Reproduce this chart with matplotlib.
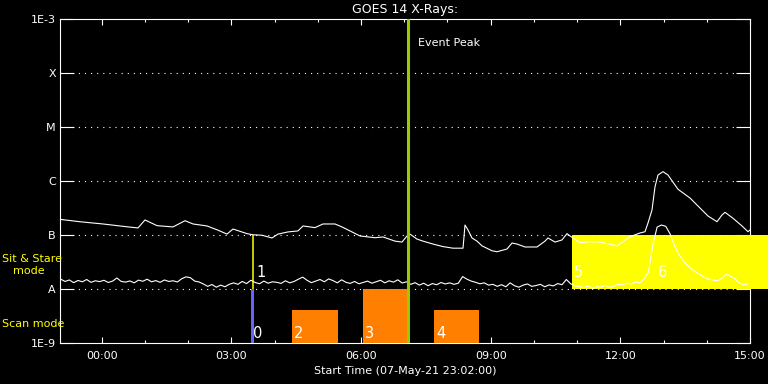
import numpy as np
import matplotlib
matplotlib.use("Agg")
import matplotlib.pyplot as plt
import matplotlib.transforms as mtransforms
from matplotlib.ticker import FixedLocator, NullLocator, MultipleLocator

# time axis in hours from 08-May-21 00:00, plot starts 07-May-21 23:02
t_start = -58 / 60.0
t_end = 15.0

# GOES 14 long channel (1-8 A), units of 1e-7 W/m^2
long_t = [-0.967, -0.504, 0.028, 0.584, 0.838, 1.000, 1.278, 1.648, 1.926, 2.111,
          2.435, 2.666, 2.898, 3.037, 3.360, 3.499, 3.708, 3.939, 4.078, 4.309,
          4.541, 4.656, 4.934, 5.119, 5.397, 5.559, 5.744, 5.975, 6.322, 6.508,
          6.785, 6.947, 7.063, 7.132, 7.294, 7.433, 7.664, 7.896, 8.127, 8.359,
          8.405, 8.474, 8.567, 8.683, 8.798, 9.030, 9.146, 9.377, 9.493, 9.608,
          9.794, 10.071, 10.256, 10.326, 10.488, 10.650, 10.765, 10.835, 11.066, 11.297,
          11.529, 11.922, 12.223, 12.455, 12.570, 12.640, 12.732, 12.802, 12.871, 12.987,
          13.103, 13.334, 13.612, 13.843, 14.028, 14.237, 14.352, 14.422, 14.607, 14.815,
          14.953, 15.0]
long_flux = [1.95, 1.76, 1.60, 1.42, 1.35, 1.90, 1.49, 1.41, 1.84, 1.60,
             1.47, 1.25, 1.04, 1.29, 1.06, 1.01, 0.99, 0.88, 1.04, 1.14,
             1.19, 1.47, 1.37, 1.60, 1.60, 1.41, 1.19, 0.96, 0.89, 0.92,
             0.77, 0.74, 0.96, 1.04, 0.84, 0.77, 0.68, 0.61, 0.57, 0.57,
             1.53, 1.24, 0.88, 0.77, 0.63, 0.51, 0.49, 0.55, 0.71, 0.68,
             0.60, 0.60, 0.77, 0.88, 0.74, 0.81, 1.06, 0.96, 0.72, 0.75,
             0.74, 0.63, 0.93, 1.09, 1.15, 1.67, 2.90, 7.84, 12.9, 14.9,
             12.9, 7.02, 4.84, 3.16, 2.25, 1.76, 2.35, 2.63, 2.04, 1.47,
             1.15, 1.24]

# short channel (0.5-4 A), units of 1e-8 W/m^2, one sample every 6 min from 23:03
short_t0 = -0.95
short_dt = 0.1
short_flux = [1.52, 1.38, 1.47, 1.31, 1.44, 1.36, 1.50, 1.33, 1.42, 1.37,
              1.45, 1.32, 1.40, 1.60, 1.38, 1.34, 1.41, 1.30, 1.46, 1.39,
              1.52, 1.36, 1.43, 1.33, 1.47, 1.38, 1.42, 1.35, 1.55, 1.68,
              1.62, 1.40, 1.35, 1.24, 1.12, 1.21, 1.08, 1.18, 1.10, 1.22,
              1.30, 1.22, 1.38, 1.26, 1.45, 1.32, 1.25, 1.40, 1.28, 1.36,
              1.33, 1.27, 1.42, 1.30, 1.38, 1.52, 1.66, 1.45, 1.31, 1.40,
              1.50, 1.36, 1.54, 1.43, 1.30, 1.48, 1.33, 1.27, 1.38, 1.25,
              1.32, 1.40, 1.28, 1.36, 1.45, 1.30, 1.42, 1.34, 1.48, 1.29,
              1.36, 1.22, 1.31, 1.18, 1.28, 1.15, 1.26, 1.20, 1.32, 1.24,
              1.30, 1.22, 1.28, 1.70, 1.52, 1.40, 1.33, 1.25, 1.30, 1.18,
              1.22, 1.12, 1.20, 1.10, 1.30, 1.15, 1.08, 1.18, 1.24, 1.12,
              1.16, 1.22, 1.10, 1.19, 1.14, 1.26, 1.20, 1.50, 1.25, 1.14,
              1.12, 1.05, 1.15, 1.02, 1.10, 1.08, 1.17, 1.06, 1.13, 1.22,
              1.20, 1.28, 1.24, 1.35, 1.30, 1.55, 2.05, 6.5, 14.0, 15.3,
              14.5, 10.5, 6.5, 4.4, 3.4, 2.75, 2.35, 2.05, 1.85, 1.62,
              1.52, 1.46, 1.42, 1.58, 1.90, 1.72, 1.55, 1.30, 1.20, 1.25]

# flare class axis
class_levels = [1e-9, 1e-8, 1e-7, 1e-6, 1e-5, 1e-4, 1e-3]
class_labels = ["1E-9", "A", "B", "C", "M", "X", "1E-3"]

hour_ticks = [0, 3, 6, 9, 12, 15]
hour_labels = ["00:00", "03:00", "06:00", "09:00", "12:00", "15:00"]

# observations (start/end in hours, flux range covered)
event_ids = ["0", "1", "2", "3", "4", "5", "6"]
event_start = [3.45, 3.50, 4.40, 6.05, 7.69, 10.87, 12.82]
event_end = [3.52, 3.50, 5.46, 7.09, 8.72, 15.5, 15.5]
event_mode = ["scan", "stare", "scan", "scan", "scan", "stare", "stare"]
event_low = [1e-9, 1e-8, 1e-9, 1e-9, 1e-9, 1e-8, 1e-8]
event_high = [1e-8, 1e-7, 4e-9, 1e-8, 4e-9, 1e-7, 1e-7]
event_color = ["#6464ff", "yellow", "#ff8000", "#ff8000", "#ff8000", "yellow", "yellow"]
mode_label_y = {"scan": 1.5e-9, "stare": 2.05e-8}

peak_time = 7.09

fig = plt.figure(figsize=(7.68, 3.84), dpi=100, facecolor="black")
ax = fig.add_axes([60 / 768, 41 / 384, 690 / 768, 324 / 384])
ax.set_facecolor("black")

ax.set_yscale("log")
ax.set_ylim(1e-9, 1e-3)
ax.set_xlim(t_start, t_end)

for lev in class_levels[1:-1]:
    ax.axhline(lev, color="white", lw=0.8, linestyle=(0, (1, 4.5)), zorder=1)

for i in range(len(event_ids)):
    if event_start[i] == event_end[i]:
        ax.vlines(event_start[i], event_low[i], event_high[i], color=event_color[i],
                  lw=1.1, zorder=3)
    else:
        ax.fill_between([event_start[i], event_end[i]], event_low[i], event_high[i],
                        color=event_color[i], lw=0, zorder=3, clip_on=False)
    off = mtransforms.offset_copy(ax.transData, fig=fig, x=2 if event_ids[i] != "1" else 3,
                                  y=0, units="dots")
    ax.text(event_start[i], mode_label_y[event_mode[i]], event_ids[i], transform=off,
            color="white", fontsize=10.5, ha="left", va="center", zorder=6)

ax.axvline(peak_time, color="#99cc00", lw=2.2, zorder=5)
off = mtransforms.offset_copy(ax.transData, fig=fig, x=10, y=0, units="dots")
ax.text(peak_time, 3.6e-4, "Event Peak", transform=off, color="white",
        fontsize=8, ha="left", va="center")

short_t = short_t0 + short_dt * np.arange(len(short_flux))
ax.plot(long_t, np.array(long_flux) * 1e-7, color="white", lw=0.8, zorder=4)
ax.plot(short_t, np.array(short_flux) * 1e-8, color="white", lw=0.8, zorder=4)

ax.yaxis.set_major_locator(FixedLocator(class_levels))
ax.yaxis.set_minor_locator(NullLocator())
ax.set_yticklabels(class_labels)
ax.set_xticks(hour_ticks)
ax.set_xticklabels(hour_labels)
ax.xaxis.set_minor_locator(MultipleLocator(1))

ax.tick_params(axis="y", which="major", direction="in", length=10, width=0.8,
               left=True, right=True, colors="white", labelsize=8, pad=3)
ax.tick_params(axis="x", which="major", direction="in", length=4.5, width=0.8,
               top=True, bottom=True, colors="white", labelsize=8, pad=6)
ax.tick_params(axis="x", which="minor", direction="in", length=2.5, width=0.8,
               top=True, bottom=True, colors="white")
for sp in ax.spines.values():
    sp.set_color("white")
    sp.set_linewidth(0.8)

ax.set_title("GOES 14 X-Rays:", color="white", fontsize=9, pad=4)
ax.set_xlabel("Start Time (07-May-21 23:02:00)", color="white", fontsize=8, labelpad=3)

# observing mode labels at the left margin
side = mtransforms.blended_transform_factory(fig.transFigure, ax.transData)
fig.text(2 / 768, 3.6e-8, "Sit & Stare", transform=side, color="yellow",
         fontsize=8, ha="left", va="center")
fig.text(13 / 768, 2.15e-8, "mode", transform=side, color="yellow",
         fontsize=8, ha="left", va="center")
fig.text(2 / 768, 2.25e-9, "Scan mode", transform=side, color="yellow",
         fontsize=8, ha="left", va="center")

fig.savefig("out.png", dpi=100, facecolor="black")
